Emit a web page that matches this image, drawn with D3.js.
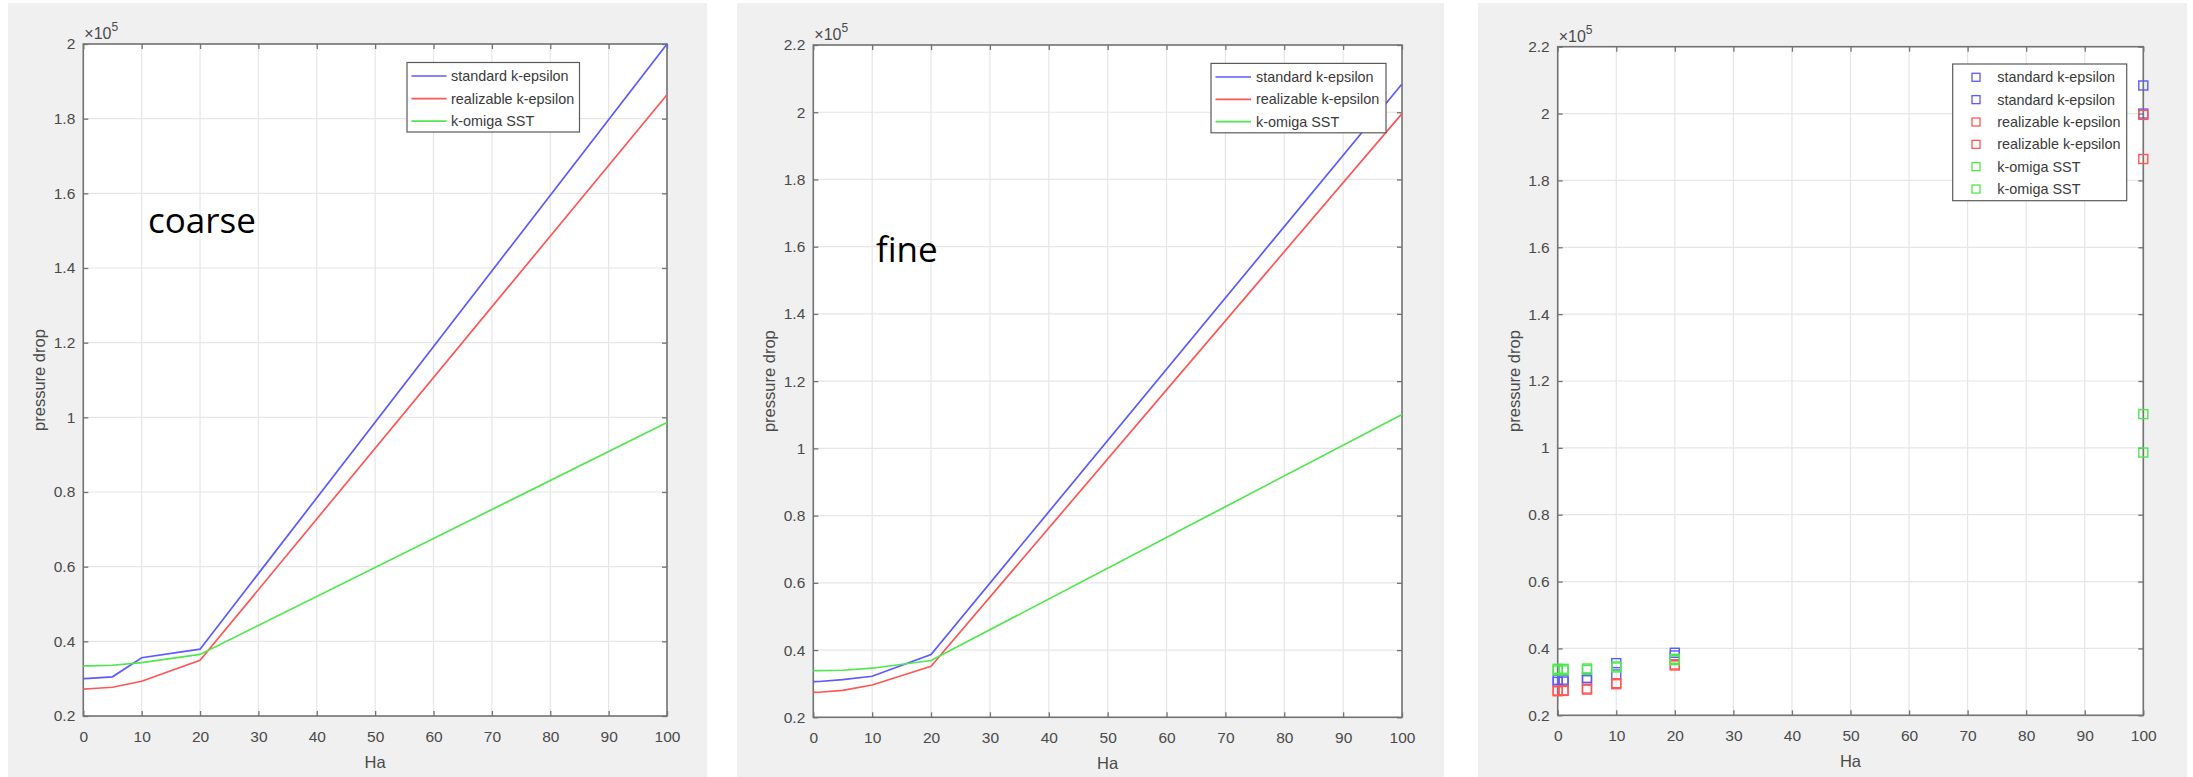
<!DOCTYPE html>
<html>
<head>
<meta charset="utf-8">
<script src="https://cdn.jsdelivr.net/npm/d3@7"></script>
<style>
  html, body { margin: 0; padding: 0; background: #ffffff; }
  svg { display: block; }
  text { font-family: "Liberation Sans", Arial, sans-serif; }
</style>
</head>
<body>
<svg id="chart" width="2193" height="777"></svg>
<script>
// ---------------- DATA ----------------
const ha = [0, 1, 5, 10, 20, 100];

// coarse mesh, pressure drop (Pa)
const coarseStandard   = [30000, 30100, 30500, 35600, 37900, 200000];
const coarseRealizable = [27200, 27300, 27700, 29300, 34900, 186400];
const coarseKOmega     = [33400, 33450, 33600, 34300, 36500,  98600];

// fine mesh, pressure drop (Pa)
const fineStandard   = [30600, 30650, 31200, 32200, 38700, 208400];
const fineRealizable = [27400, 27450, 28000, 29600, 35200, 199600];
const fineKOmega     = [33900, 33900, 34000, 34600, 36900, 110100];

const seriesNames = ["standard k-epsilon", "realizable k-epsilon", "k-omiga SST"];

const xTicks = [0, 10, 20, 30, 40, 50, 60, 70, 80, 90, 100];
const yTicksCoarse = [20000, 40000, 60000, 80000, 100000, 120000, 140000, 160000, 180000, 200000];
const yTicksFine   = [20000, 40000, 60000, 80000, 100000, 120000, 140000, 160000, 180000, 200000, 220000];

const xLabel = "Ha";
const yLabel = "pressure drop";
const panelNotes = ["coarse", "fine"];

// ---------------- STYLE ----------------
const colors = ["#5a5aff", "#ff5656", "#4ee84e"];
const axisColor = "#737373";
const gridColor = "#e6e6e6";
const textColor = "#4a4a4a";

const svg = d3.select("#chart");

function yFmt(v) {
  const s = (v / 1e5);
  return d3.format("~g")(Math.round(s * 10) / 10);
}

function drawPanel(cfg) {
  const g = svg.append("g");
  // gray figure background
  g.append("rect").attr("x", cfg.bg[0]).attr("y", cfg.bg[1])
    .attr("width", cfg.bg[2] - cfg.bg[0]).attr("height", cfg.bg[3] - cfg.bg[1])
    .attr("fill", "#f0f0f0");

  const x = d3.scaleLinear().domain([0, 100]).range([cfg.x0, cfg.x1]);
  const y = d3.scaleLinear().domain(cfg.yDomain).range([cfg.y1, cfg.y0]);

  // plot area
  g.append("rect").attr("x", cfg.x0).attr("y", cfg.y0)
    .attr("width", cfg.x1 - cfg.x0).attr("height", cfg.y1 - cfg.y0)
    .attr("fill", "#ffffff");

  // grid
  g.append("g").selectAll("line").data(xTicks).join("line")
    .attr("x1", d => x(d)).attr("x2", d => x(d))
    .attr("y1", cfg.y0).attr("y2", cfg.y1)
    .attr("stroke", gridColor).attr("stroke-width", 1.2);
  g.append("g").selectAll("line").data(cfg.yTicks).join("line")
    .attr("x1", cfg.x0).attr("x2", cfg.x1)
    .attr("y1", d => y(d)).attr("y2", d => y(d))
    .attr("stroke", gridColor).attr("stroke-width", 1.2);

  // axes
  const styleAxis = sel => {
    sel.selectAll(".domain").remove();
    sel.selectAll(".tick line").attr("stroke", axisColor).attr("stroke-width", 1.3);
    sel.selectAll(".tick text").attr("fill", textColor)
      .style("font-size", "15.5px").style("font-family", "'Liberation Sans', Arial, sans-serif");
  };
  g.append("g").attr("transform", `translate(0,${cfg.y1})`)
    .call(d3.axisBottom(x).tickValues(xTicks).tickSize(-5).tickPadding(15).tickFormat(d3.format("d")))
    .call(styleAxis);
  g.append("g").attr("transform", `translate(0,${cfg.y0})`)
    .call(d3.axisTop(x).tickValues(xTicks).tickSize(-5).tickFormat(""))
    .call(styleAxis);
  g.append("g").attr("transform", `translate(${cfg.x0},0)`)
    .call(d3.axisLeft(y).tickValues(cfg.yTicks).tickSize(-5).tickPadding(8).tickFormat(yFmt))
    .call(styleAxis);
  g.append("g").attr("transform", `translate(${cfg.x1},0)`)
    .call(d3.axisRight(y).tickValues(cfg.yTicks).tickSize(-5).tickFormat(""))
    .call(styleAxis);

  // frame
  g.append("rect").attr("x", cfg.x0).attr("y", cfg.y0)
    .attr("width", cfg.x1 - cfg.x0).attr("height", cfg.y1 - cfg.y0)
    .attr("fill", "none").attr("stroke", axisColor).attr("stroke-width", 1.6);

  // exponent
  const ex = g.append("text").attr("x", cfg.x0 + 1).attr("y", cfg.y0 - 5)
    .attr("fill", textColor).style("font-size", "16px");
  ex.append("tspan").text("×10");
  ex.append("tspan").attr("dy", -8).style("font-size", "12px").text("5");

  // axis labels
  g.append("text").attr("x", (cfg.x0 + cfg.x1) / 2).attr("y", cfg.y1 + 52)
    .attr("text-anchor", "middle").attr("fill", textColor).style("font-size", "16.5px").text(xLabel);
  g.append("text")
    .attr("transform", `translate(${cfg.x0 - 38},${(cfg.y0 + cfg.y1) / 2}) rotate(-90)`)
    .attr("text-anchor", "middle").attr("fill", textColor).style("font-size", "16.5px").text(yLabel);

  // data
  const dataG = g.append("g");
  if (cfg.kind === "line") {
    const line = d3.line().x((d, i) => x(ha[i])).y(d => y(d));
    cfg.series.forEach((s, k) => {
      dataG.append("path").datum(s).attr("d", line)
        .attr("fill", "none").attr("stroke", colors[k]).attr("stroke-width", 1.7);
    });
  } else {
    cfg.series.forEach((s, k) => {
      const c = colors[cfg.seriesColor[k]];
      dataG.append("g").selectAll("rect").data(s).join("rect")
        .attr("x", (d, i) => x(ha[i]) - 4.5).attr("y", d => y(d) - 4.5)
        .attr("width", 9).attr("height", 9)
        .attr("fill", "none").attr("stroke", c).attr("stroke-width", 1.4);
    });
  }

  // note text
  if (cfg.note) {
    g.append("text").attr("x", cfg.note.x).attr("y", cfg.note.y)
      .attr("fill", "#000").style("font-family", "'Open Sans', 'Noto Sans', sans-serif")
      .style("font-size", "35px").text(cfg.note.text);
  }

  // legend
  const L = cfg.legend;
  const lg = g.append("g");
  lg.append("rect").attr("x", L.x0).attr("y", L.y0)
    .attr("width", L.x1 - L.x0).attr("height", L.y1 - L.y0)
    .attr("fill", "#ffffff").attr("stroke", "#5a5a5a").attr("stroke-width", 1.2);
  L.labels.forEach((lab, i) => {
    const yy = L.rowY0 + i * L.rowH;
    const c = colors[L.colorIdx[i]];
    if (cfg.kind === "line") {
      lg.append("line").attr("x1", L.symX0).attr("x2", L.symX1)
        .attr("y1", yy).attr("y2", yy).attr("stroke", c).attr("stroke-width", 1.7);
    } else {
      lg.append("rect").attr("x", L.symX0 - 4).attr("y", yy - 4)
        .attr("width", 8).attr("height", 8)
        .attr("fill", "none").attr("stroke", c).attr("stroke-width", 1.3);
    }
    lg.append("text").attr("x", L.textX).attr("y", yy).attr("dy", "0.35em")
      .attr("fill", "#3a3a3a").style("font-size", "14.4px").text(lab);
  });
}

// Panel 1: coarse
drawPanel({
  bg: [8, 3, 707, 777],
  x0: 83.3, x1: 667, y0: 44, y1: 716,
  yDomain: [20000, 200000], yTicks: yTicksCoarse,
  kind: "line",
  series: [coarseStandard, coarseRealizable, coarseKOmega],
  note: { x: 148, y: 233, text: panelNotes[0] },
  legend: { x0: 407, x1: 579.5, y0: 62.5, y1: 132, rowY0: 76, rowH: 22.6,
            symX0: 411.5, symX1: 446.5, textX: 451,
            labels: seriesNames, colorIdx: [0, 1, 2] }
});

// Panel 2: fine
drawPanel({
  bg: [737, 3, 1444, 777],
  x0: 813.3, x1: 1402, y0: 45, y1: 717.3,
  yDomain: [20000, 220000], yTicks: yTicksFine,
  kind: "line",
  series: [fineStandard, fineRealizable, fineKOmega],
  note: { x: 876, y: 262, text: panelNotes[1] },
  legend: { x0: 1211, x1: 1386, y0: 63.4, y1: 132.8, rowY0: 77, rowH: 22.3,
            symX0: 1215.5, symX1: 1251, textX: 1256,
            labels: seriesNames, colorIdx: [0, 1, 2] }
});

// Panel 3: scatter of both meshes
drawPanel({
  bg: [1478, 3, 2187, 777],
  x0: 1557.7, x1: 2143.3, y0: 46.7, y1: 715.3,
  yDomain: [20000, 220000], yTicks: yTicksFine,
  kind: "scatter",
  series: [coarseStandard, fineStandard, coarseRealizable, fineRealizable, coarseKOmega, fineKOmega],
  seriesColor: [0, 0, 1, 1, 2, 2],
  note: null,
  legend: { x0: 1952.7, x1: 2126.7, y0: 64, y1: 200.7, rowY0: 77.3, rowH: 22.35,
            symX0: 1976, textX: 1997.3,
            labels: [seriesNames[0], seriesNames[0], seriesNames[1], seriesNames[1], seriesNames[2], seriesNames[2]],
            colorIdx: [0, 0, 1, 1, 2, 2] }
});
</script>
</body>
</html>
